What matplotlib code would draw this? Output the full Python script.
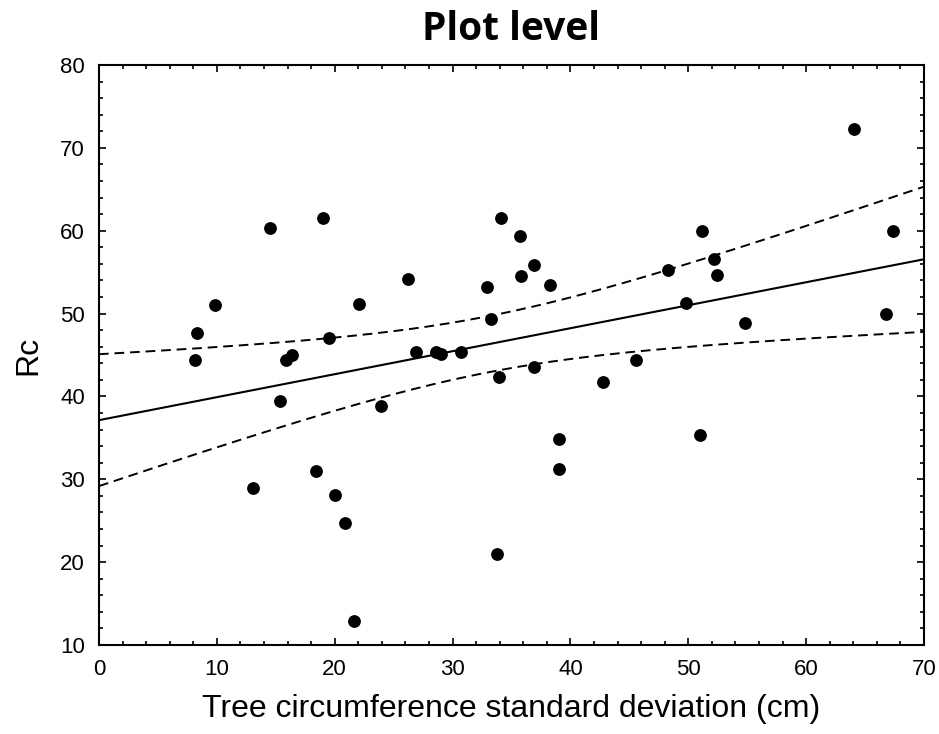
import numpy as np
import matplotlib.pyplot as plt
from matplotlib.ticker import MultipleLocator

# plot-level data: circumference SD (cm) vs Rc
circ_sd = [8.15, 8.3, 9.85, 14.5, 19.0, 15.9, 16.4, 19.55, 22.07, 26.2,
           26.9, 28.6, 29.0, 30.7, 32.9, 33.3, 34.15, 35.7, 35.85, 36.9,
           38.25, 48.25, 49.8, 51.2, 52.2, 52.4, 54.8, 64.1, 67.35, 66.8,
           36.9, 45.6, 15.4, 23.97, 33.98, 13.1, 18.45, 20.0, 20.86, 21.6,
           33.8, 42.75, 39.0, 39.0, 51.0]
rc = [44.4, 47.6, 51.0, 60.3, 61.5, 44.4, 45.0, 47.1, 51.2, 54.2,
      45.4, 45.4, 45.1, 45.4, 53.2, 49.35, 61.5, 59.4, 54.5, 55.9,
      53.45, 55.2, 51.3, 60.0, 56.6, 54.7, 48.8, 72.3, 60.0, 50.0,
      43.6, 44.4, 39.5, 38.8, 42.3, 29.0, 31.0, 28.1, 24.7, 12.9,
      21.0, 41.7, 34.9, 31.2, 35.4]

x = np.array(circ_sd)
y = np.array(rc)
n = len(x)

# least squares fit with 95% confidence band
slope, intercept = np.polyfit(x, y, 1)
resid = y - (intercept + slope * x)
s = np.sqrt(np.sum(resid ** 2) / (n - 2))
t_crit = 2.0167  # t(0.975, df=43)
xs = np.linspace(0, 70, 200)
fit = intercept + slope * xs
se = s * np.sqrt(1.0 / n + (xs - x.mean()) ** 2 / np.sum((x - x.mean()) ** 2))
upper = fit + t_crit * se
lower = fit - t_crit * se

plt.rcParams['font.family'] = ['Liberation Sans', 'DejaVu Sans']

fig = plt.figure(figsize=(9.39, 7.34), dpi=100)
ax = fig.add_axes([0.1054, 0.1213, 0.8786, 0.7902])

ax.plot(xs, fit, color='black', lw=1.5)
ax.plot(xs, upper, color='black', lw=1.4, dashes=(5, 3))
ax.plot(xs, lower, color='black', lw=1.4, dashes=(5, 3))
ax.scatter(x, y, s=85, color='black', zorder=3, linewidths=0)

ax.set_xlim(0, 70)
ax.set_ylim(10, 80)
ax.xaxis.set_major_locator(MultipleLocator(10))
ax.xaxis.set_minor_locator(MultipleLocator(2))
ax.yaxis.set_major_locator(MultipleLocator(10))
ax.yaxis.set_minor_locator(MultipleLocator(2))
ax.tick_params(which='both', direction='in', top=True, right=True, width=1.2)
ax.tick_params(which='major', length=5, labelsize=16, pad=10)
ax.tick_params(which='minor', length=3)
for sp in ax.spines.values():
    sp.set_linewidth(1.5)

ax.set_xlabel('Tree circumference standard deviation (cm)', fontsize=23, labelpad=10)
ax.set_ylabel('Rc', fontsize=23, labelpad=12)
ax.set_title('Plot level', fontsize=28, fontweight='bold',
             family=['Open Sans', 'DejaVu Sans'], pad=18)

fig.savefig('out.png', dpi=100)
